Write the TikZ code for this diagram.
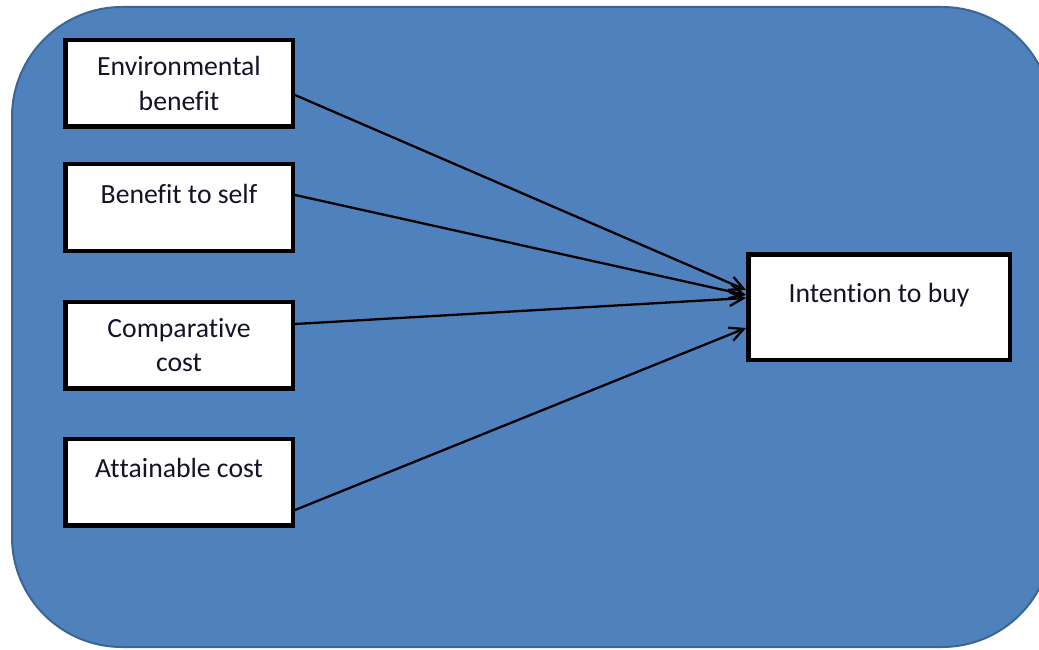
\documentclass[tikz,border=0pt]{standalone}
\usepackage{fontspec}
\setmainfont{Carlito}[Ligatures={NoCommon,NoRequired,NoContextual}]
\usetikzlibrary{arrows.meta}
\newcommand{\nolig}{\kern0pt\relax}
\definecolor{bgblue}{HTML}{4F81BD}
\definecolor{bgedge}{HTML}{3A6595}
\definecolor{txtcol}{HTML}{141428}
\tikzset{
  factor/.style={draw=black, line width=4.5pt, fill=white, minimum width=227.5pt, minimum height=86.5pt,
    inner sep=0pt, align=center, text=txtcol, font=\fontsize{27.7}{34.5}\selectfont},
  oneline/.style={text height=20pt, text depth=29pt},
  conn/.style={line width=2.3pt, -{Straight Barb[length=14pt,width=14pt,line width=2.3pt]}}
}
\begin{document}
\begin{tikzpicture}[x=1pt,y=-1pt]
\useasboundingbox (0,0) rectangle (1039,650);
\draw[fill=bgblue, draw=bgedge, line width=2pt, rounded corners=110pt] (12,7) rectangle (1052,647);
\node[factor] (env) at (179,83.5) {Environmental\\benef\nolig it};
\node[factor, oneline] (self) at (179,207.5) {Benef\nolig it to self};
\node[factor] (comp) at (179,345) {Comparat\nolig ive\\cost};
\node[factor, oneline] (att) at (179,482) {At\nolig tainable cost};
\node[factor, oneline, minimum width=261.5pt, minimum height=105.5pt] (buy) at (879,307) {Intent\nolig ion to buy};
\draw[conn] ([yshift=-11.5pt]env.east) -- ([yshift=17pt]buy.west);
\draw[conn] ([yshift=12.5pt]self.east) -- ([yshift=12pt]buy.west);
\draw[conn] ([yshift=21pt]comp.east) -- ([yshift=9pt]buy.west);
\draw[conn] ([yshift=-28pt]att.east) -- ([yshift=-21pt]buy.west);
\end{tikzpicture}
\end{document}
